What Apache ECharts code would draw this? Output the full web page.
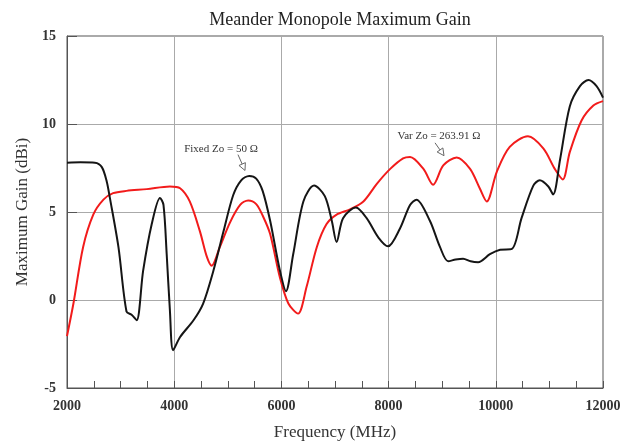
<!DOCTYPE html>
<html>
<head>
<meta charset="utf-8">
<script src="https://cdn.jsdelivr.net/npm/echarts@6/dist/echarts.min.js"></script>
<style>
  html, body { margin: 0; padding: 0; background: #fff; }
  #chart { width: 632px; height: 446px; }
</style>
</head>
<body>
<div id="chart"></div>
<script>
// 数据：频率 (MHz) 和增益 (dBi)
var fixedFreq = [2000, 2250, 2520, 2650, 2740, 2800, 2960, 3110, 3210, 3300, 3420, 3580, 3735, 3800, 3860, 3920, 3980,
  4110, 4360, 4540, 4730, 4920, 5100, 5250, 5400, 5530, 5650, 5790, 5970, 6085, 6220, 6410, 6610, 6810, 6940, 7030,
  7150, 7390, 7590, 7810, 7990, 8210, 8400, 8520, 8770, 8960, 9110, 9250, 9390, 9530, 9670, 9890, 10080, 10300,
  10480, 10700, 10820, 10980, 11070, 11200, 11380, 11570, 11730, 11880, 12000];
var fixedGain = [7.8, 7.82, 7.8, 7.55, 6.75, 5.8, 3.0, -0.65, -0.85, -1.15, 1.65, 4.3, 5.8, 5.4, 2.6, -0.6, -2.85,
  -2.1, -1.15, -0.2, 1.65, 3.9, 5.95, 6.8, 7.05, 6.9, 6.2, 4.5, 1.7, 0.5, 2.6, 5.6, 6.5, 5.9, 4.5, 3.3,
  4.65, 5.25, 4.65, 3.55, 3.05, 4.05, 5.4, 5.7, 4.5, 3.0, 2.2, 2.3, 2.35, 2.2, 2.15, 2.6, 2.85, 2.9,
  4.65, 6.5, 6.8, 6.45, 6.0, 8.0, 11.0, 12.15, 12.5, 12.15, 11.5];

var varFreq = [2000, 2120, 2300, 2490, 2680, 2860, 3110, 3490, 3920, 4110, 4290, 4480, 4610, 4700, 4850, 5040,
  5230, 5380, 5530, 5650, 5790, 5970, 6130, 6310, 6470, 6660, 6840, 7030, 7280, 7530, 7780, 8030, 8270, 8400,
  8650, 8830, 9020, 9270, 9520, 9700, 9830, 10020, 10260, 10600, 10890, 11100, 11250, 11380, 11600, 11820, 12000];
var varGain = [-2.05, -0.2, 3.0, 4.85, 5.7, 6.07, 6.2, 6.3, 6.45, 6.35, 5.6, 3.9, 2.45, 1.95, 3.0, 4.4,
  5.4, 5.65, 5.45, 4.8, 3.75, 1.3, -0.2, -0.77, 0.75, 3.0, 4.3, 4.85, 5.15, 5.6, 6.6, 7.45, 8.05, 8.13,
  7.45, 6.55, 7.65, 8.1, 7.45, 6.35, 5.6, 7.3, 8.7, 9.3, 8.6, 7.45, 6.85, 8.4, 10.2, 11.05, 11.3];

var seriesNames = ['Fixed Zo = 50 Ω', 'Var Zo = 263.91 Ω'];
// 标注位置（数据坐标）：文字中心、箭头起点、箭头终点
var labelAt = [[4873, 8.6], [8940, 9.33]];
var arrowFrom = [[5190, 8.26], [8866, 8.93]];
var arrowTo = [[5321, 7.36], [9034, 8.2]];

function pairs(xs, ys) {
  var res = [];
  for (var i = 0; i < xs.length; i++) {
    res.push([xs[i], ys[i]]);
  }
  return res;
}

var font = '"Liberation Serif", "Times New Roman", serif';
var myChart = echarts.init(document.getElementById('chart'), null, { renderer: 'canvas' });

var option = {
  animation: false,
  backgroundColor: '#fff',
  title: {
    text: 'Meander Monopole Maximum Gain',
    left: 335,
    top: 6,
    textAlign: 'center',
    textStyle: { fontFamily: font, fontSize: 18, fontWeight: 'normal', color: '#222' }
  },
  grid: {
    left: 67,
    right: 29,
    top: 36,
    bottom: 54,
    show: true,
    borderColor: '#555',
    borderWidth: 1
  },
  xAxis: {
    type: 'value',
    min: 2000,
    max: 12000,
    interval: 2000,
    name: 'Frequency (MHz)',
    nameLocation: 'middle',
    nameGap: 36,
    nameTextStyle: { fontFamily: font, fontSize: 17, color: '#333' },
    axisLine: { onZero: false, lineStyle: { color: '#555', width: 1 } },
    axisTick: { show: true, inside: true, length: 7, lineStyle: { color: '#555' } },
    minorTick: { show: true, splitNumber: 4, length: 7, lineStyle: { color: '#555' } },
    splitLine: { show: true, lineStyle: { color: '#aaa', width: 1 } },
    axisLabel: {
      fontFamily: font, fontSize: 14, fontWeight: 'bold', color: '#333', margin: 11,
      formatter: function (v) { return String(v); }
    }
  },
  yAxis: {
    type: 'value',
    min: -5,
    max: 15,
    interval: 5,
    name: 'Maximum Gain (dBi)',
    nameLocation: 'middle',
    nameGap: 36,
    nameTextStyle: { fontFamily: font, fontSize: 17, color: '#333' },
    axisLine: { show: true, onZero: false, lineStyle: { color: '#555', width: 1 } },
    axisTick: { show: true, inside: true, length: 10, lineStyle: { color: '#555' } },
    splitLine: { show: true, lineStyle: { color: '#aaa', width: 1 } },
    axisLabel: { fontFamily: font, fontSize: 14, fontWeight: 'bold', color: '#333', margin: 11 }
  },
  series: [
    {
      name: seriesNames[0],
      type: 'line',
      data: pairs(fixedFreq, fixedGain),
      smooth: 0.3,
      showSymbol: false,
      lineStyle: { color: '#151515', width: 2 },
      z: 3
    },
    {
      name: seriesNames[1],
      type: 'line',
      data: pairs(varFreq, varGain),
      smooth: 0.3,
      showSymbol: false,
      lineStyle: { color: '#f21b1b', width: 2 },
      z: 2
    }
  ]
};
myChart.setOption(option);

// 标注文字和箭头，位置由数据坐标换算
var graphics = [];
for (var i = 0; i < seriesNames.length; i++) {
  var t = myChart.convertToPixel({ gridIndex: 0 }, labelAt[i]);
  var a = myChart.convertToPixel({ gridIndex: 0 }, arrowFrom[i]);
  var b = myChart.convertToPixel({ gridIndex: 0 }, arrowTo[i]);
  graphics.push({
    type: 'text',
    x: t[0],
    y: t[1],
    style: {
      text: seriesNames[i],
      font: '11px ' + font,
      fill: '#333',
      align: 'center',
      verticalAlign: 'middle'
    },
    z: 10
  });
  var ang = Math.atan2(b[1] - a[1], b[0] - a[0]);
  var hl = 7, hw = 3.5;
  var bx = b[0] - hl * Math.cos(ang), by = b[1] - hl * Math.sin(ang);
  graphics.push({
    type: 'line',
    shape: { x1: a[0], y1: a[1], x2: bx, y2: by },
    style: { stroke: '#666', lineWidth: 1 },
    z: 10
  });
  graphics.push({
    type: 'polygon',
    shape: {
      points: [
        [b[0], b[1]],
        [bx - hw * Math.sin(ang), by + hw * Math.cos(ang)],
        [bx + hw * Math.sin(ang), by - hw * Math.cos(ang)]
      ]
    },
    style: { fill: '#fff', stroke: '#666', lineWidth: 1 },
    z: 10
  });
}
myChart.setOption({ graphic: graphics });
</script>
</body>
</html>
